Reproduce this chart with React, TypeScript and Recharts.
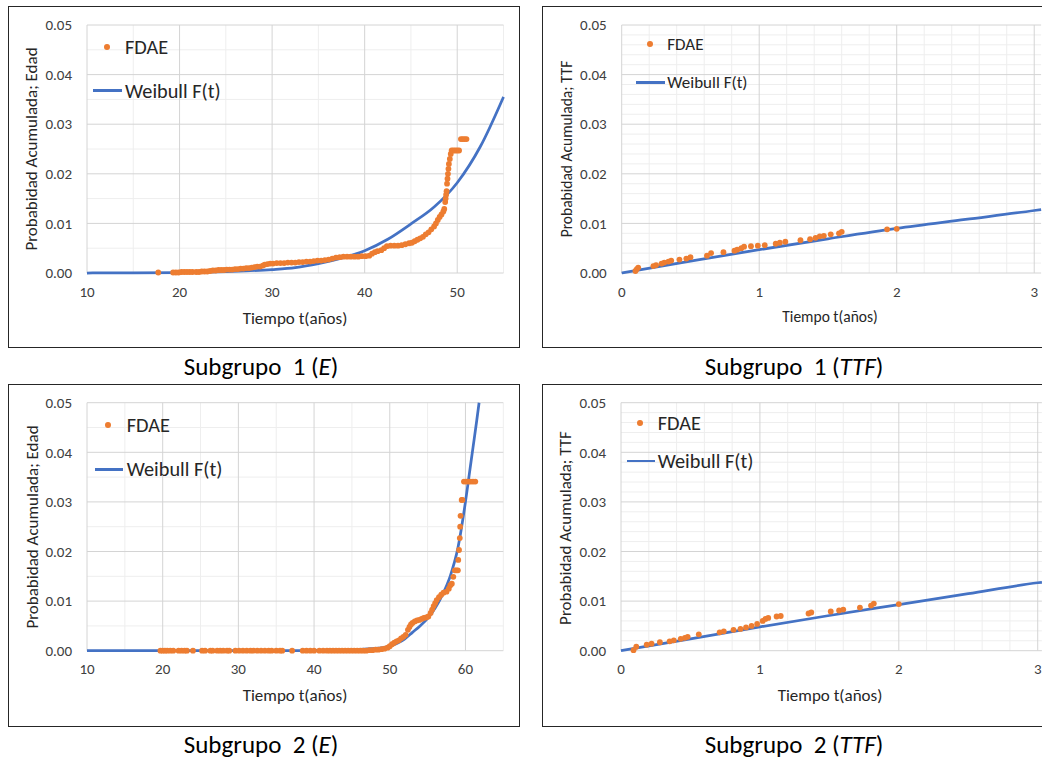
import React from "react";
import { ComposedChart, Line, Scatter, XAxis, YAxis, ReferenceLine } from "recharts";

const FONT = "Calibri, Carlito, Lato, sans-serif";
const ORANGE = "#ED7D31";
const BLUE = "#4472C4";
const TEXT = "#404040";

// Subgrupo 1 (E): empirical points [t, F]
const sub1EdadFdae = [
  [17.7, 0.0001], [19.3, 0.0001], [19.6, 0.0001], [19.9, 0.0001], [20.2, 0.0002], [20.5, 0.0002],
  [20.8, 0.0002], [21.1, 0.0002], [21.4, 0.0002], [21.8, 0.0002], [22.1, 0.0002], [22.4, 0.0003],
  [22.7, 0.0003], [23.0, 0.0003], [23.3, 0.0004], [23.6, 0.0005], [23.9, 0.0005], [24.2, 0.0006],
  [24.5, 0.0006], [24.8, 0.0006], [25.1, 0.0007], [25.4, 0.0007], [25.7, 0.0007], [26.0, 0.0008],
  [26.3, 0.0008], [26.6, 0.0009], [26.9, 0.0009], [27.2, 0.001], [27.5, 0.001], [27.8, 0.0011],
  [28.1, 0.0012], [28.4, 0.0013], [28.7, 0.0013], [29.0, 0.0015], [29.2, 0.0017], [29.5, 0.0018],
  [29.8, 0.0019], [30.1, 0.0019], [30.5, 0.002], [30.9, 0.002], [31.3, 0.002], [31.7, 0.0021],
  [32.1, 0.0021], [32.5, 0.0021], [32.9, 0.0022], [33.3, 0.0022], [33.7, 0.0023], [34.1, 0.0023],
  [34.5, 0.0024], [34.9, 0.0025], [35.3, 0.0025], [35.7, 0.0026], [36.1, 0.0027], [36.5, 0.0029],
  [36.9, 0.0031], [37.3, 0.0032], [37.7, 0.0033], [38.1, 0.0033], [38.5, 0.0033], [38.9, 0.0033],
  [39.3, 0.0033], [39.7, 0.0034], [40.1, 0.0034], [40.5, 0.0035], [40.8, 0.0039], [41.1, 0.0042],
  [41.4, 0.0044], [41.8, 0.0046], [42.1, 0.005], [42.4, 0.0054], [42.8, 0.0055], [43.2, 0.0055],
  [43.6, 0.0055], [44.0, 0.0056], [44.4, 0.0058], [44.8, 0.006], [45.1, 0.0061], [45.4, 0.0064],
  [45.7, 0.0067], [46.0, 0.007], [46.3, 0.0073], [46.6, 0.0078], [46.9, 0.0082], [47.2, 0.0088],
  [47.5, 0.0094], [47.7, 0.01], [47.9, 0.0107], [48.1, 0.0113], [48.3, 0.0118], [48.5, 0.0124],
  [48.6, 0.0129], [48.7, 0.0143], [48.75, 0.015], [48.8, 0.0158], [48.85, 0.0165], [48.9, 0.018],
  [48.95, 0.019], [49.0, 0.02], [49.05, 0.021], [49.1, 0.022], [49.2, 0.023], [49.3, 0.024],
  [49.4, 0.0247], [49.6, 0.0247], [49.8, 0.0247], [50.0, 0.0247], [50.2, 0.0247], [50.4, 0.027],
  [50.6, 0.027], [50.8, 0.027], [51.0, 0.027],
];
const sub1EdadWeibull = [
  [10, 0], [15, 0.00002], [20, 0.0001], [25, 0.0003], [30, 0.0007], [32.5, 0.0011], [35, 0.0019],
  [37.5, 0.003], [40, 0.0045], [42.5, 0.0068], [45, 0.0099], [47.5, 0.0133], [50, 0.0182],
  [52.5, 0.0255], [55, 0.0355],
];

// Subgrupo 1 (TTF)
const sub1TtfFdae = [
  [0.1, 0.0004], [0.11, 0.0008], [0.12, 0.0011], [0.23, 0.0014], [0.25, 0.0016], [0.29, 0.0019],
  [0.31, 0.0021], [0.34, 0.0023], [0.36, 0.0025], [0.42, 0.0027], [0.47, 0.0029], [0.5, 0.0032],
  [0.62, 0.0035], [0.65, 0.004], [0.74, 0.0042], [0.82, 0.0045], [0.84, 0.0047], [0.87, 0.005],
  [0.89, 0.0053], [0.94, 0.0054], [0.99, 0.0055], [1.04, 0.0056], [1.12, 0.0059], [1.15, 0.0061],
  [1.19, 0.0063], [1.3, 0.0066], [1.37, 0.0068], [1.41, 0.0071], [1.44, 0.0074], [1.47, 0.0075],
  [1.52, 0.0078], [1.58, 0.008], [1.6, 0.0083], [1.93, 0.0088], [2.0, 0.0089],
];
const sub1TtfWeibull = [
  [0, 0], [0.5, 0.0024], [1, 0.0047], [1.5, 0.0069], [2, 0.009], [2.5, 0.0108], [3, 0.0126], [3.05, 0.0128],
];

// Subgrupo 2 (E)
const sub2EdadFdae = [
  [19.7, 0], [20.0, 0], [20.3, 0], [20.6, 0], [21.0, 0], [21.4, 0], [22.1, 0], [22.5, 0], [22.9, 0],
  [23.2, 0], [24.0, 0], [25.2, 0], [25.6, 0], [26.3, 0], [26.6, 0], [27.2, 0], [27.6, 0], [28.0, 0],
  [28.5, 0], [28.8, 0], [29.6, 0], [30.1, 0], [30.6, 0], [31.1, 0], [31.6, 0], [32.0, 0], [32.5, 0],
  [33.0, 0], [33.5, 0], [34.0, 0], [34.4, 0], [35.0, 0], [35.5, 0], [35.8, 0], [37.1, 0], [38.5, 0],
  [39.0, 0], [39.5, 0], [40.0, 0], [40.7, 0], [41.2, 0], [41.7, 0], [42.1, 0], [42.5, 0], [42.9, 0],
  [43.3, 0], [43.7, 0], [44.1, 0], [44.5, 0], [44.9, 0], [45.3, 0], [45.7, 0], [46.1, 0], [46.5, 0],
  [46.9, 0], [47.3, 0.0001], [47.7, 0.0001], [48.1, 0.0002], [48.5, 0.0002], [48.9, 0.0003],
  [49.3, 0.0004], [49.7, 0.0006], [50.0, 0.0009], [50.3, 0.0013], [50.6, 0.0016], [50.9, 0.0019],
  [51.2, 0.0021], [51.5, 0.0025], [51.8, 0.0028], [52.1, 0.0032], [52.4, 0.0042], [52.6, 0.0048],
  [52.8, 0.0053], [53.0, 0.0056], [53.3, 0.0059], [53.6, 0.0061], [53.9, 0.0062], [54.2, 0.0064],
  [54.5, 0.0066], [54.8, 0.0067], [55.1, 0.0069], [55.4, 0.0076], [55.6, 0.0083], [55.8, 0.009],
  [56.0, 0.0096], [56.2, 0.0102], [56.5, 0.0108], [56.8, 0.0113], [57.1, 0.0117], [57.5, 0.0119],
  [57.8, 0.0125], [58.0, 0.0132], [58.2, 0.0135], [58.4, 0.0149], [58.6, 0.0162], [58.8, 0.0162],
  [59.0, 0.0162], [59.05, 0.0183], [59.15, 0.0203], [59.25, 0.0227], [59.3, 0.025], [59.35, 0.0272],
  [59.5, 0.0304], [59.6, 0.0304], [59.8, 0.0341], [60.1, 0.0341], [60.4, 0.0341], [60.7, 0.0341],
  [61.0, 0.0341], [61.3, 0.0341],
];
const sub2EdadWeibull = [
  [10, 0], [20, 0], [30, 0], [35, 0.00001], [40, 0.00005], [42.5, 0.0001], [45, 0.0002],
  [47.5, 0.0004], [50, 0.0009], [51, 0.0015], [52, 0.0024], [53, 0.0037], [54, 0.005], [55, 0.0065],
  [56, 0.0086], [57, 0.0114], [58, 0.0151], [59, 0.0207], [60, 0.03], [60.5, 0.0355], [61, 0.041],
  [61.5, 0.0465], [61.8, 0.05],
];

// Subgrupo 2 (TTF)
const sub2TtfFdae = [
  [0.09, 0.0001], [0.11, 0.0008], [0.185, 0.0012], [0.22, 0.0014], [0.28, 0.0017], [0.35, 0.0019],
  [0.38, 0.0021], [0.43, 0.0024], [0.46, 0.0026], [0.48, 0.0028], [0.56, 0.0033], [0.71, 0.0037],
  [0.74, 0.0039], [0.81, 0.0042], [0.86, 0.0044], [0.9, 0.0047], [0.94, 0.005], [0.98, 0.0054],
  [1.02, 0.006], [1.04, 0.0064], [1.06, 0.0066], [1.12, 0.0069], [1.15, 0.007], [1.35, 0.0075],
  [1.37, 0.0077], [1.51, 0.0079], [1.57, 0.0081], [1.6, 0.0083], [1.72, 0.0087], [1.8, 0.0091],
  [1.82, 0.0095], [2.0, 0.0094],
];
const sub2TtfWeibull = [
  [0, 0], [0.5, 0.0024], [1, 0.0048], [1.5, 0.0071], [2, 0.0093], [2.5, 0.0115], [3, 0.0137], [3.03, 0.0138],
];

const yTicks = [0, 0.01, 0.02, 0.03, 0.04, 0.05];
const yMinorEdad = [0.005, 0.015, 0.025, 0.035, 0.045];
const yMinorTtf = [
  0.002, 0.004, 0.006, 0.008, 0.012, 0.014, 0.016, 0.018, 0.022, 0.024, 0.026, 0.028,
  0.032, 0.034, 0.036, 0.038, 0.042, 0.044, 0.046, 0.048,
];
const xTicksEdad1 = [10, 20, 30, 40, 50];
const xMinorEdad1 = [15, 25, 35, 45, 55];
const xTicksEdad2 = [10, 20, 30, 40, 50, 60];
const xMinorEdad2 = [15, 25, 35, 45, 55, 65];
const xTicksTtf = [0, 1, 2, 3];
const xMinorTtf = [0.2, 0.4, 0.6, 0.8, 1.2, 1.4, 1.6, 1.8, 2.2, 2.4, 2.6, 2.8];

const toPts = (arr: number[][]) => arr.map(([t, p]) => ({ t, p }));

const panels = [
  {
    key: "s1e",
    box: { x: 8, y: 6, w: 512, h: 342 },
    plot: { x0: 87, y0: 25, x1: 503.5, y1: 273 },
    xDomain: [10, 55], xTicks: xTicksEdad1, xMinor: xMinorEdad1, yMinor: yMinorEdad,
    fdae: sub1EdadFdae, curve: sub1EdadWeibull,
    yLabel: "Probabidad Acumulada; Edad", yLabelPos: [31, 149],
    xLabelPos: [295, 318], titleSize: 17,
    caption: ["Subgrupo  1 (", "E", ")"], captionPos: [261, 366],
    legend: { dot: [107.3, 46.7], text1: 125, line: [93.3, 121.7, 90.7], text2: 125, size: 20.3 },
  },
  {
    key: "s1t",
    box: { x: 542, y: 6, w: 506, h: 342 },
    plot: { x0: 621.7, y0: 25, x1: 1041.1, y1: 273 },
    xDomain: [0, 3.05], xTicks: xTicksTtf, xMinor: xMinorTtf, yMinor: yMinorTtf,
    fdae: sub1TtfFdae, curve: sub1TtfWeibull,
    yLabel: "Probabidad Acumulada; TTF", yLabelPos: [566.7, 149],
    xLabelPos: [830, 316.7], titleSize: 15.5,
    caption: ["Subgrupo  1 (", "TTF", ")"], captionPos: [794, 366],
    legend: { dot: [650.3, 44], text1: 667.3, line: [636, 665, 82.3], text2: 667.3, size: 17 },
  },
  {
    key: "s2e",
    box: { x: 8, y: 384, w: 512, h: 343 },
    plot: { x0: 87, y0: 402.7, x1: 503.3, y1: 650.7 },
    xDomain: [10, 65], xTicks: xTicksEdad2, xMinor: xMinorEdad2, yMinor: yMinorEdad,
    fdae: sub2EdadFdae, curve: sub2EdadWeibull,
    yLabel: "Probabidad Acumulada; Edad", yLabelPos: [31.7, 527],
    xLabelPos: [295, 695], titleSize: 17,
    caption: ["Subgrupo  2 (", "E", ")"], captionPos: [261, 744],
    legend: { dot: [108.3, 424.7], text1: 126.7, line: [95, 123.3, 469.3], text2: 126.7, size: 20.3 },
  },
  {
    key: "s2t",
    box: { x: 542, y: 384, w: 506, h: 343 },
    plot: { x0: 621, y0: 402.7, x1: 1041.9, y1: 650.7 },
    xDomain: [0, 3.03], xTicks: xTicksTtf, xMinor: xMinorTtf, yMinor: yMinorTtf,
    fdae: sub2TtfFdae, curve: sub2TtfWeibull,
    yLabel: "Probabidad Acumulada; TTF", yLabelPos: [565, 527.5],
    xLabelPos: [830, 695], titleSize: 17,
    caption: ["Subgrupo  2 (", "TTF", ")"], captionPos: [794, 744],
    legend: { dot: [640, 422.7], text1: 657.7, line: [626.7, 655, 461], text2: 657.7, size: 20.3 },
  },
];

const TICK_SIZE = 15;

const Dot = (props: any) => <circle cx={props.cx} cy={props.cy} r={2.9} fill={ORANGE} />;

const XTick = (props: any) => (
  <text x={props.x} y={props.y} dy="0.71em" textAnchor="middle" fill={TEXT}
    style={{ fontSize: TICK_SIZE, fontFamily: FONT }}>
    {props.payload.value}
  </text>
);

const YTick = (props: any) => (
  <text x={props.x} y={props.y} dy="0.35em" textAnchor="end" fill={TEXT}
    style={{ fontSize: TICK_SIZE, fontFamily: FONT }}>
    {Number(props.payload.value).toFixed(2)}
  </text>
);

function Panel({ cfg }: { cfg: any }) {
  const { box, plot, legend } = cfg;
  const xAxisH = 40;
  const yAxisW = plot.x0 - box.x;
  const margin = {
    top: plot.y0 - box.y,
    right: box.x + box.w - plot.x1,
    left: 0,
    bottom: box.y + box.h - plot.y1 - xAxisH,
  };
  const textBase: React.CSSProperties = {
    position: "absolute", whiteSpace: "pre", fontFamily: FONT, lineHeight: 1, color: "#262626",
  };
  return (
    <>
      <div style={{ position: "absolute", left: box.x, top: box.y }}>
        <ComposedChart width={box.w} height={box.h} margin={margin}>
          <XAxis type="number" dataKey="t" domain={cfg.xDomain} ticks={cfg.xTicks} height={xAxisH}
            axisLine={false} tickLine={false} tickMargin={7} tick={XTick} interval={0} />
          <YAxis type="number" dataKey="p" domain={[0, 0.05]} ticks={yTicks} width={yAxisW}
            axisLine={false} tickLine={false} tickMargin={9} tick={YTick} interval={0} />
          {cfg.xMinor.map((v: number) => <ReferenceLine key={"xm" + v} x={v} stroke="#eeeeee" strokeWidth={1} />)}
          {cfg.yMinor.map((v: number) => <ReferenceLine key={"ym" + v} y={v} stroke="#eeeeee" strokeWidth={1} />)}
          {cfg.xTicks.map((v: number) => <ReferenceLine key={"xM" + v} x={v} stroke="#d4d4d4" strokeWidth={1} />)}
          {yTicks.map((v: number) => <ReferenceLine key={"yM" + v} y={v} stroke="#d4d4d4" strokeWidth={1} />)}
          <Scatter name="FDAE" data={toPts(cfg.fdae)} dataKey="p" shape={Dot} isAnimationActive={false} />
          <Line name="Weibull F(t)" data={toPts(cfg.curve)} dataKey="p" type="monotone" dot={false}
            stroke={BLUE} strokeWidth={2.75} isAnimationActive={false} />
        </ComposedChart>
      </div>
      <div style={{
        position: "absolute", left: box.x, top: box.y, width: box.w, height: box.h,
        border: "1px solid #262626", boxSizing: "border-box", pointerEvents: "none",
      }} />
      {/* legend */}
      <div style={{
        position: "absolute", left: legend.dot[0] - 2.9, top: legend.dot[1] - 2.9,
        width: 5.8, height: 5.8, borderRadius: "50%", background: ORANGE,
      }} />
      <div style={{ ...textBase, left: legend.text1, top: legend.dot[1], fontSize: legend.size, transform: "translateY(-50%)" }}>FDAE</div>
      <div style={{
        position: "absolute", left: legend.line[0], top: legend.line[2] - 1.4,
        width: legend.line[1] - legend.line[0], height: 2.75, background: BLUE,
      }} />
      <div style={{ ...textBase, left: legend.text2, top: legend.line[2], fontSize: legend.size, transform: "translateY(-50%)" }}>Weibull F(t)</div>
      {/* axis titles */}
      <div style={{
        ...textBase, left: cfg.yLabelPos[0], top: cfg.yLabelPos[1], fontSize: cfg.titleSize,
        transform: "translate(-50%, -50%) rotate(-90deg)",
      }}>{cfg.yLabel}</div>
      <div style={{
        ...textBase, left: cfg.xLabelPos[0], top: cfg.xLabelPos[1], fontSize: cfg.titleSize,
        transform: "translate(-50%, -50%)",
      }}>Tiempo t(años)</div>
      {/* caption */}
      <div style={{
        ...textBase, color: "#000", left: cfg.captionPos[0], top: cfg.captionPos[1], fontSize: 25,
        transform: "translate(-50%, -50%)",
      }}>
        {cfg.caption[0]}<i>{cfg.caption[1]}</i>{cfg.caption[2]}
      </div>
    </>
  );
}

export default function App() {
  return (
    <div style={{
      position: "fixed", left: 0, top: 0, width: 1042, height: 758, overflow: "hidden",
      background: "#fff", fontFamily: FONT,
    }}>
      {panels.map((p) => <Panel key={p.key} cfg={p} />)}
    </div>
  );
}
